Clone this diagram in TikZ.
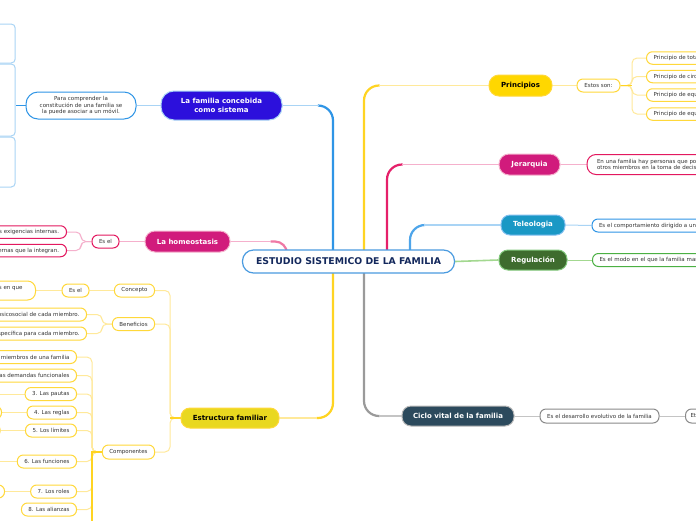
\documentclass[tikz,border=0pt]{standalone}
\usepackage{fontspec}
\setmainfont{DejaVu Sans}
\usetikzlibrary{backgrounds}
\definecolor{txt}{HTML}{333333}
\definecolor{navy}{HTML}{13285C}
\definecolor{cblue}{HTML}{4A9BE0}
\definecolor{famfill}{HTML}{2C10DC}
\definecolor{bluedk}{HTML}{2F95E6}
\definecolor{bluelt}{HTML}{A9D4F5}
\definecolor{yelfill}{HTML}{FFD700}
\definecolor{yeldk}{HTML}{FFD422}
\definecolor{yellt}{HTML}{FFE99A}
\definecolor{yelbd}{HTML}{FFD83A}
\definecolor{pinkfill}{HTML}{D11B7C}
\definecolor{pinkdk}{HTML}{E5206A}
\definecolor{pinklt}{HTML}{F5B0CC}
\definecolor{pinkbd}{HTML}{E3185F}
\definecolor{telfill}{HTML}{1A98C5}
\definecolor{regfill}{HTML}{3E6C2E}
\definecolor{greenlt}{HTML}{A3D890}
\definecolor{greenbd}{HTML}{4BB043}
\definecolor{estrfill}{HTML}{E9D81F}
\definecolor{cicfill}{HTML}{2C4A5D}
\definecolor{graydk}{HTML}{9A9A9A}
\definecolor{graylt}{HTML}{C4C4C4}
\definecolor{graybd}{HTML}{8A8A8A}
\begin{document}
\begin{tikzpicture}[x=1pt,y=-1pt,
  topic/.style={draw, line width=1pt, rounded corners=9pt, font=\bfseries\fontsize{7}{9}\selectfont, text=white, align=center, inner sep=0pt, minimum height=20pt},
  sub/.style={draw, fill=white, line width=1pt, rounded corners=6pt, font=\fontsize{5.5}{6.8}\selectfont, text=txt, inner xsep=7pt, inner ysep=0pt, minimum height=13pt},
  conn/.style={line width=1pt, rounded corners=5pt},
  trunk/.style={line width=2.2pt, rounded corners=15pt},
  lite/.style={line width=1.6pt}]
\useasboundingbox (0,0) rectangle (696,520);

% ---------- nodes ----------
\node[draw=cblue, line width=1.2pt, fill=white, rounded corners=11pt, minimum width=212pt, minimum height=23pt, inner sep=0pt, font=\bfseries\fontsize{9.3}{11}\selectfont, text=navy] (central) at (348.5,261.5) {ESTUDIO SISTEMICO DE LA FAMILIA};

% La familia concebida como sistema
\node[topic, fill=famfill, draw=bluelt, minimum width=121pt, minimum height=29pt, rounded corners=13pt] (fam) at (221.5,105.5) {La familia concebida\\como sistema};
\node[sub, draw=bluedk, minimum width=110pt, minimum height=27pt, rounded corners=12pt, align=center] (para) at (81,105.5) {Para comprender la\\constitución de una familia se\\la puede asociar a un móvil.};
\node[sub, draw=bluelt, anchor=east, minimum width=50pt, minimum height=39pt, rounded corners=4pt] (lb1) at (15.7,43.5) {};
\node[sub, draw=bluelt, anchor=east, minimum width=50pt, minimum height=72pt, rounded corners=4pt] (lb2) at (15.7,100) {};
\node[sub, draw=bluelt, anchor=east, minimum width=50pt, minimum height=50pt, rounded corners=4pt] (lb3) at (15.7,162) {};

% Principios
\node[topic, fill=yelfill, draw=yelbd, text=black, minimum width=63pt, minimum height=21pt, rounded corners=10pt] (prin) at (520.5,85.5) {Principios};
\node[sub, draw=yelbd, minimum width=43pt] (estos) at (598.5,85.5) {Estos son:};
\node[sub, draw=yelbd, anchor=west, text width=90pt, align=left, minimum height=12.5pt] (p1) at (646,58) {Principio de totalidad};
\node[sub, draw=yelbd, anchor=west, text width=90pt, align=left, minimum height=12.5pt] (p2) at (646,76.5) {Principio de circularidad};
\node[sub, draw=yelbd, anchor=west, text width=90pt, align=left, minimum height=12.5pt] (p3) at (646,95) {Principio de equifinalidad};
\node[sub, draw=yelbd, anchor=west, text width=90pt, align=left, minimum height=12.5pt] (p4) at (646,114) {Principio de equipotencialidad};

% Jerarquia
\node[topic, fill=pinkfill, draw=pinklt, minimum width=61pt, minimum height=21pt, rounded corners=10pt] (jer) at (529.5,164.5) {Jerarquia};
\node[sub, draw=pinkbd, anchor=west, text width=170pt, align=left, inner xsep=10pt, minimum height=20pt, rounded corners=9pt, font=\fontsize{5.5}{6.3}\selectfont] (jt) at (586.5,164.5) {En una familia hay personas que poseen más poder que\\otros miembros en la toma de decisiones.};

% Teleologia
\node[topic, fill=telfill, draw=bluedk!60, minimum width=64pt] (tel) at (533,225) {Teleologia};
\node[sub, draw=bluedk, anchor=west, text width=160pt, align=left] (tt) at (591.5,225.5) {Es el comportamiento dirigido a una meta.};

% Regulacion
\node[topic, fill=regfill, draw=greenbd!70, minimum width=68pt] (reg) at (533,260) {Regulación};
\node[sub, draw=greenbd, anchor=west, text width=160pt, align=left] (rt) at (592,260) {Es el modo en el que la familia mantiene su equilibrio.};

% La homeostasis
\node[topic, fill=pinkfill, draw=pinklt, minimum width=85pt, minimum height=21pt, rounded corners=10pt] (homeo) at (187.5,241.5) {La homeostasis};
\node[sub, draw=pinkbd, minimum width=27pt] (esel1) at (105.5,241.5) {Es el};
\node[sub, draw=pinkbd, anchor=east, minimum height=12.5pt, inner xsep=7.5pt] (h1) at (67,232) {las exigencias internas.};
\node[sub, draw=pinkbd, anchor=east, minimum height=12.5pt, inner xsep=7.5pt] (h2) at (67,250.5) {externas que la integran.};

% Estructura familiar
\node[topic, fill=estrfill, draw=yelbd, text=black, minimum width=98pt] (estr) at (230,418) {Estructura familiar};
\node[sub, draw=yelbd, minimum width=39pt] (con) at (134.5,290.5) {Concepto};
\node[sub, draw=yelbd, minimum width=27pt] (esel2) at (75.5,290.5) {Es el};
\node[sub, draw=yelbd, anchor=east, align=right, minimum height=19pt, rounded corners=8pt] (cc) at (36,290.5) {organizan los modos en que\hspace*{6pt}\\\mbox{}};
\node[sub, draw=yelbd, minimum width=41pt] (ben) at (133.5,324) {Beneficios};
\node[sub, draw=yelbd, anchor=east] (b1) at (87,314.5) {Favorece el desarrollo psicosocial de cada miembro.};
\node[sub, draw=yelbd, anchor=east] (b2) at (87,333.5) {Asigna una función específica para cada miembro.};
\node[sub, draw=yelbd, minimum width=51pt, minimum height=14pt] (comp) at (128.5,452) {Componentes};
\node[sub, draw=yelbd, anchor=east] (i1) at (77,357) {1. Los miembros de una familia};
\node[sub, draw=yelbd, anchor=east] (i2) at (77,375.5) {2. Las demandas funcionales};
\node[sub, draw=yelbd, anchor=east, minimum width=50pt] (i3) at (77,394) {3. Las pautas};
\node[sub, draw=yelbd, anchor=east, minimum width=49pt] (i4) at (77,412.5) {4. Las reglas};
\node[sub, draw=yelbd, anchor=east, minimum width=51pt] (i5) at (77,430.5) {5. Los límites};
\node[sub, draw=yelbd, anchor=east, minimum width=59pt] (i6) at (77,461.5) {6. Las funciones};
\node[sub, draw=yelbd, anchor=east, minimum width=45pt] (i7) at (77,491.5) {7. Los roles};
\node[sub, draw=yelbd, anchor=east, minimum width=55pt] (i8) at (77,509.5) {8. Las alianzas};
\node[sub, draw=yelbd, anchor=east, minimum width=40pt] (g4) at (2,412.5) {};
\node[sub, draw=yelbd, anchor=east, minimum width=40pt] (g5) at (0.6,430.5) {};
\node[sub, draw=yelbd, anchor=east, minimum width=40pt] (g7) at (5,491.5) {};
\coordinate (g3) at (-8,394);
\coordinate (g6) at (-8,461.5);

% Ciclo vital
\node[topic, fill=cicfill, draw=graybd!60, minimum width=112pt] (cic) at (458,416) {Ciclo vital de la familia};
\node[sub, draw=graybd, minimum width=119pt, minimum height=14pt] (ct) at (599.5,416) {Es el desarrollo evolutivo de la familia};
\node[sub, draw=graybd, anchor=west, minimum height=14pt, inner xsep=5pt, text width=80pt, align=left] (ct2) at (685,416) {Etapas del ciclo vital};

% ---------- connectors ----------
\coordinate (tA) at (333,261);
\coordinate (tB) at (364,261);
\coordinate (tC) at (387,261);
\coordinate (tD) at (410,261);
\coordinate (tH) at (287,261);
\coordinate (sE) at (632,85.5);
\coordinate (sH) at (81,241.5);
\coordinate (sS) at (170,418);
\coordinate (sB) at (102,324);
\coordinate (sC) at (92,452);
\coordinate (sCend) at (92,530);

\begin{pgfonlayer}{background}
\fill[white] (-20,-20) rectangle (720,540);
% trunks: dark vertical part with its bend, light horizontal part to the topic
\draw[trunk, bluedk] (tA) -- (tA |- fam.east) -- ([xshift=36pt]fam.east);
\draw[lite, bluelt] ([xshift=36.5pt]fam.east) -- (fam.east);
\draw[trunk, yeldk] (tB) -- (tB |- prin.west) -- ([xshift=-109pt]prin.west);
\draw[lite, yellt] ([xshift=-109.5pt]prin.west) -- (prin.west);
\draw[trunk, pinkdk] (tC) -- (tC |- jer.west) -- ([xshift=-96pt]jer.west);
\draw[lite, pinklt] ([xshift=-96.5pt]jer.west) -- (jer.west);
\draw[trunk, bluedk!85] (tD) -- (tD |- tel.west) -- ([xshift=-76pt]tel.west);
\draw[lite, bluelt] ([xshift=-76.5pt]tel.west) -- (tel.west);
\draw[lite, greenlt] (central.east) -- (reg.west);
\draw[trunk, rounded corners=12pt, pinkdk!60] (tH) -- (tH |- homeo.east) -- ([xshift=40pt]homeo.east);
\draw[lite, pinklt] ([xshift=40.5pt]homeo.east) -- (homeo.east);
\draw[trunk, yeldk] (tA) -- (tA |- estr.east) -- ([xshift=37pt]estr.east);
\draw[lite, yellt] ([xshift=37.5pt]estr.east) -- (estr.east);
\draw[trunk, graydk] (tB) -- (tB |- cic.west) -- ([xshift=-22pt]cic.west);
\draw[lite, graylt] ([xshift=-22.5pt]cic.west) -- (cic.west);

% familia concebida
\draw[conn, bluelt] (fam.west) -- (para.east);
\draw[conn, bluedk] (para.west) -- (para.west -| lb2.east);

% principios
\draw[conn, yellt, line width=1.3pt] (prin.east) -- (estos.west);
\foreach \p in {p1,p2,p3,p4}{\draw[conn, yellt] (estos.east) -- (sE) |- (\p.west);}
\draw[line width=1.6pt, yeldk] (estos.east) -- (sE);

% jerarquia, teleologia, regulacion
\draw[conn, pinklt] (jer.east) -- (jt.west);
\draw[conn, bluelt] (tel.east) -- (tt.west);
\draw[conn, greenlt] (reg.east) -- (rt.west);

% homeostasis
\draw[conn, pinklt] (homeo.west) -- (esel1.east);
\draw[conn, pinklt] (esel1.west) -- (sH) |- (h1.east);
\draw[conn, pinklt] (esel1.west) -- (sH) |- (h2.east);

% estructura familiar
\foreach \c in {con,ben,comp}{\draw[conn, yellt] (estr.west) -- (sS) |- (\c.east);}
\draw[line width=1.4pt, yeldk] (estr.west) -- (sS);
\draw[conn, yellt] (con.west) -- (esel2.east);
\draw[conn, yellt] (esel2.west) -- (cc.east);
\draw[conn, yellt] (ben.west) -- (sB) |- (b1.east);
\draw[conn, yellt] (ben.west) -- (sB) |- (b2.east);
\foreach \i in {i1,i2,i3,i4,i5,i6,i7,i8}{\draw[conn, yellt] (comp.west) -- (sC) |- (\i.east);}
\draw[line width=1.4pt, yeldk] (comp.west) -- (sC) -- (sCend);
\draw[conn, yellt] (i3.west) -- (g3);
\draw[conn, yellt] (i4.west) -- (g4.east);
\draw[conn, yellt] (i5.west) -- (g5.east);
\draw[conn, yellt] (i6.west) -- (g6);
\draw[conn, yellt] (i7.west) -- (g7.east);

% ciclo vital
\draw[conn, graylt] (cic.east) -- (ct.west);
\draw[conn, graylt] (ct.east) -- (ct2.west);
\end{pgfonlayer}
\end{tikzpicture}
\end{document}
